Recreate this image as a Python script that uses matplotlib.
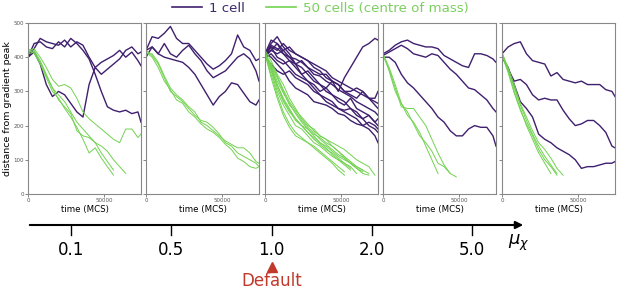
import matplotlib
matplotlib.use("Agg")
import matplotlib.pyplot as plt
import numpy as np

# time points (MCS), sampled every 4000 up to the end of the runs
times = [0, 4000, 8000, 12000, 16000, 20000, 24000, 28000, 32000, 36000,
         40000, 44000, 48000, 52000, 56000, 60000, 64000, 68000, 72000, 74000]

mu_labels = ["0.1", "0.5", "1.0", "2.0", "5.0"]
default_idx = 2

# distance from gradient peak, single cell runs (one list per run)
single_01 = [
    [400, 425, 455, 445, 440, 435, 450, 430, 445, 435, 400, 370, 385, 395, 405, 420, 400, 415, 390, 375],
    [400, 415, 380, 320, 285, 300, 290, 265, 240, 225, 320, 370, 350, 365, 380, 395, 420, 430, 410, 415],
    [400, 440, 445, 430, 425, 445, 430, 455, 440, 420, 395, 350, 300, 255, 245, 240, 245, 235, 240, 210],
]
single_05 = [
    [420, 460, 455, 470, 490, 455, 440, 440, 420, 400, 380, 365, 375, 390, 410, 465, 430, 420, 390, 395],
    [420, 430, 410, 440, 410, 400, 420, 435, 410, 390, 360, 340, 350, 360, 380, 400, 410, 395, 360, 330],
    [400, 430, 410, 400, 395, 390, 385, 370, 350, 320, 290, 260, 285, 300, 325, 320, 295, 270, 260, 275],
]
single_10 = [
    [410, 440, 460, 430, 410, 380, 350, 330, 320, 300, 310, 330, 300, 340, 370, 400, 430, 440, 455, 450],
    [400, 430, 420, 440, 420, 410, 400, 390, 370, 360, 340, 330, 320, 300, 290, 280, 300, 280, 270, 265],
    [405, 420, 440, 410, 390, 370, 350, 360, 340, 320, 300, 290, 270, 260, 280, 250, 240, 230, 210, 200],
    [395, 410, 390, 380, 390, 380, 370, 350, 330, 320, 310, 290, 280, 270, 250, 240, 220, 200, 190, 180],
    [410, 450, 440, 420, 430, 410, 400, 390, 380, 370, 360, 340, 330, 320, 310, 300, 290, 280, 260, 250],
    [400, 380, 360, 350, 360, 340, 330, 320, 300, 290, 280, 270, 250, 240, 230, 220, 200, 210, 200, 190],
    [415, 430, 400, 390, 370, 350, 340, 330, 310, 290, 270, 260, 250, 245, 250, 230, 220, 230, 210, 220],
    [400, 420, 410, 420, 400, 395, 385, 370, 350, 345, 330, 320, 305, 295, 285, 270, 260, 250, 240, 230],
    [410, 400, 380, 360, 330, 310, 300, 290, 270, 265, 260, 250, 235, 230, 215, 205, 200, 190, 170, 150],
    [405, 435, 425, 410, 400, 380, 390, 370, 360, 350, 350, 330, 320, 300, 300, 310, 300, 280, 280, 300],
]
single_20 = [
    [410, 420, 435, 445, 450, 440, 435, 430, 430, 425, 405, 395, 385, 375, 370, 410, 410, 405, 395, 385],
    [405, 415, 425, 435, 425, 410, 405, 400, 410, 405, 385, 365, 350, 330, 310, 305, 290, 275, 250, 240],
    [400, 400, 385, 350, 325, 310, 290, 270, 250, 225, 210, 185, 170, 170, 190, 200, 195, 195, 170, 140],
]
single_50 = [
    [410, 430, 440, 445, 410, 390, 385, 380, 345, 355, 335, 330, 325, 330, 320, 320, 320, 305, 300, 285],
    [405, 365, 330, 335, 320, 290, 275, 280, 275, 275, 245, 220, 200, 205, 215, 215, 200, 180, 140, 135],
    [400, 370, 320, 270, 250, 225, 175, 160, 150, 135, 125, 115, 100, 75, 80, 80, 85, 90, 90, 95],
]

# centre of mass of 50 cells (runs stop at different times)
com_01 = [
    [420, 425, 400, 370, 335, 315, 320, 310, 280, 240, 220, 205, 190, 175, 160, 150, 190, 190, 165, 175],
    [415, 420, 390, 350, 310, 275, 255, 235, 185, 170, 165, 150, 140, 125, 100, 80, 60],
    [410, 415, 380, 340, 300, 280, 250, 225, 195, 160, 120, 135, 105, 80, 55],
    [425, 410, 385, 345, 310, 290, 270, 240, 210, 190, 170, 150, 120, 95, 70],
]
com_05 = [
    [420, 405, 380, 340, 300, 285, 270, 250, 230, 215, 210, 195, 175, 150, 140, 120, 110, 100, 90, 80],
    [415, 400, 370, 330, 305, 275, 265, 240, 225, 205, 190, 180, 165, 145, 130, 105, 95, 80, 75, 80],
    [410, 410, 385, 345, 310, 290, 275, 255, 240, 210, 200, 185, 170, 155, 145, 135, 135, 120, 95, 90],
]
com_10 = [
    [410, 370, 320, 280, 250, 220, 200, 180, 165, 150, 140, 125, 110, 100, 90, 80, 70, 60],
    [415, 360, 300, 260, 230, 200, 190, 170, 150, 140, 125, 110, 100, 85, 70],
    [405, 380, 340, 300, 260, 240, 215, 195, 180, 160, 145, 130, 115, 105, 90, 75, 65],
    [410, 340, 280, 230, 195, 170, 160, 150, 140, 125, 110, 95, 80, 65],
    [420, 390, 350, 320, 280, 250, 220, 200, 190, 170, 160, 150, 140, 130, 115, 100, 90, 80, 55],
    [410, 365, 320, 275, 245, 215, 200, 180, 160, 145, 130, 120, 105, 90, 75],
    [405, 370, 310, 270, 240, 220, 200, 190, 170, 150, 135, 115, 100, 90, 80, 60],
    [415, 375, 330, 295, 265, 235, 210, 190, 175, 165, 150, 140, 125, 110, 95, 80, 70],
    [410, 350, 290, 240, 205, 180, 165, 150, 135, 120, 105, 90, 70, 55],
    [410, 380, 345, 305, 270, 245, 225, 205, 185, 170, 160, 140, 125, 105, 90, 75, 60, 55],
]
com_20 = [
    [410, 370, 320, 265, 230, 210, 180, 140, 100, 60],
    [405, 365, 310, 255, 250, 250, 225, 200, 160, 120, 85, 60],
    [410, 360, 300, 265, 240, 205, 170, 150, 125, 90, 80, 60, 50],
]
com_50 = [
    [410, 360, 300, 250, 200, 160, 120, 90, 60],
    [415, 365, 310, 260, 215, 175, 140, 110, 85, 60],
    [410, 370, 320, 265, 225, 185, 150, 130, 105, 75, 55],
    [405, 355, 295, 245, 205, 170, 130, 100, 80, 55],
]

single_runs = [single_01, single_05, single_10, single_20, single_50]
com_runs = [com_01, com_05, com_10, com_20, com_50]

purple = "#3f1f6e"
green = "#72d250"

W, H = 617, 291
fig = plt.figure(figsize=(W / 100, H / 100), dpi=100)

lefts = [28, 146, 265, 383, 502]
pw, top, bot = 113, 23, 194

for i in range(5):
    ax = fig.add_axes([lefts[i] / W, 1 - bot / H, pw / W, (bot - top) / H])
    for y in single_runs[i]:
        ax.plot(times[:len(y)], y, color=purple, lw=1.0)
    for y in com_runs[i]:
        ax.plot(times[:len(y)], y, color=green, lw=0.7)
    ax.set_xlim(0, 74000)
    ax.set_ylim(0, 500)
    ax.set_xticks([0, 50000])
    ax.set_yticks([0, 100, 200, 300, 400, 500])
    ax.tick_params(labelsize=4, length=2, width=0.5, pad=1, colors="#555555")
    if i > 0:
        ax.set_yticklabels([])
    else:
        ax.set_ylabel("distance from gradient peak", fontsize=6.8, labelpad=1)
    ax.set_xlabel("time (MCS)", fontsize=6.2, labelpad=1)
    for s in ax.spines.values():
        s.set_color("#888888")
        s.set_linewidth(0.8)

# legend at top
fig.legend(
    [plt.Line2D([], [], color=purple, lw=1.2), plt.Line2D([], [], color=green, lw=1.2)],
    ["1 cell", "50 cells (centre of mass)"],
    loc="upper center", bbox_to_anchor=(0.519, 0.993), ncol=2, frameon=False,
    fontsize=9.6, handlelength=2.25, columnspacing=1.55, handletextpad=0.53,
    borderpad=0, borderaxespad=0,
    labelcolor=["#3d2a6b", "#7ccf5f"],
)

# mu_chi axis below the panels
ov = fig.add_axes([0, 0, 1, 1])
ov.set_xlim(0, W)
ov.set_ylim(H, 0)
ov.axis("off")
ov.annotate("", xy=(526, 225), xytext=(27, 225),
            arrowprops=dict(arrowstyle="-|>", color="black", lw=1.5, mutation_scale=11))
tick_x = np.linspace(71, 472, len(mu_labels))
for x, lab in zip(tick_x, mu_labels):
    ov.plot([x, x], [225, 235], color="black", lw=1.0)
    ov.text(x, 250, lab, ha="center", va="center", fontsize=12)
ov.text(519, 243, r"$\mu_\chi$", ha="center", va="center", fontsize=13)
ov.plot(tick_x[default_idx], 267, marker="^", color="#c0392b", markersize=6.5)
ov.text(tick_x[default_idx], 281, "Default", ha="center", va="center",
        fontsize=12, color="#c0392b")

fig.savefig("out.png", dpi=100)
